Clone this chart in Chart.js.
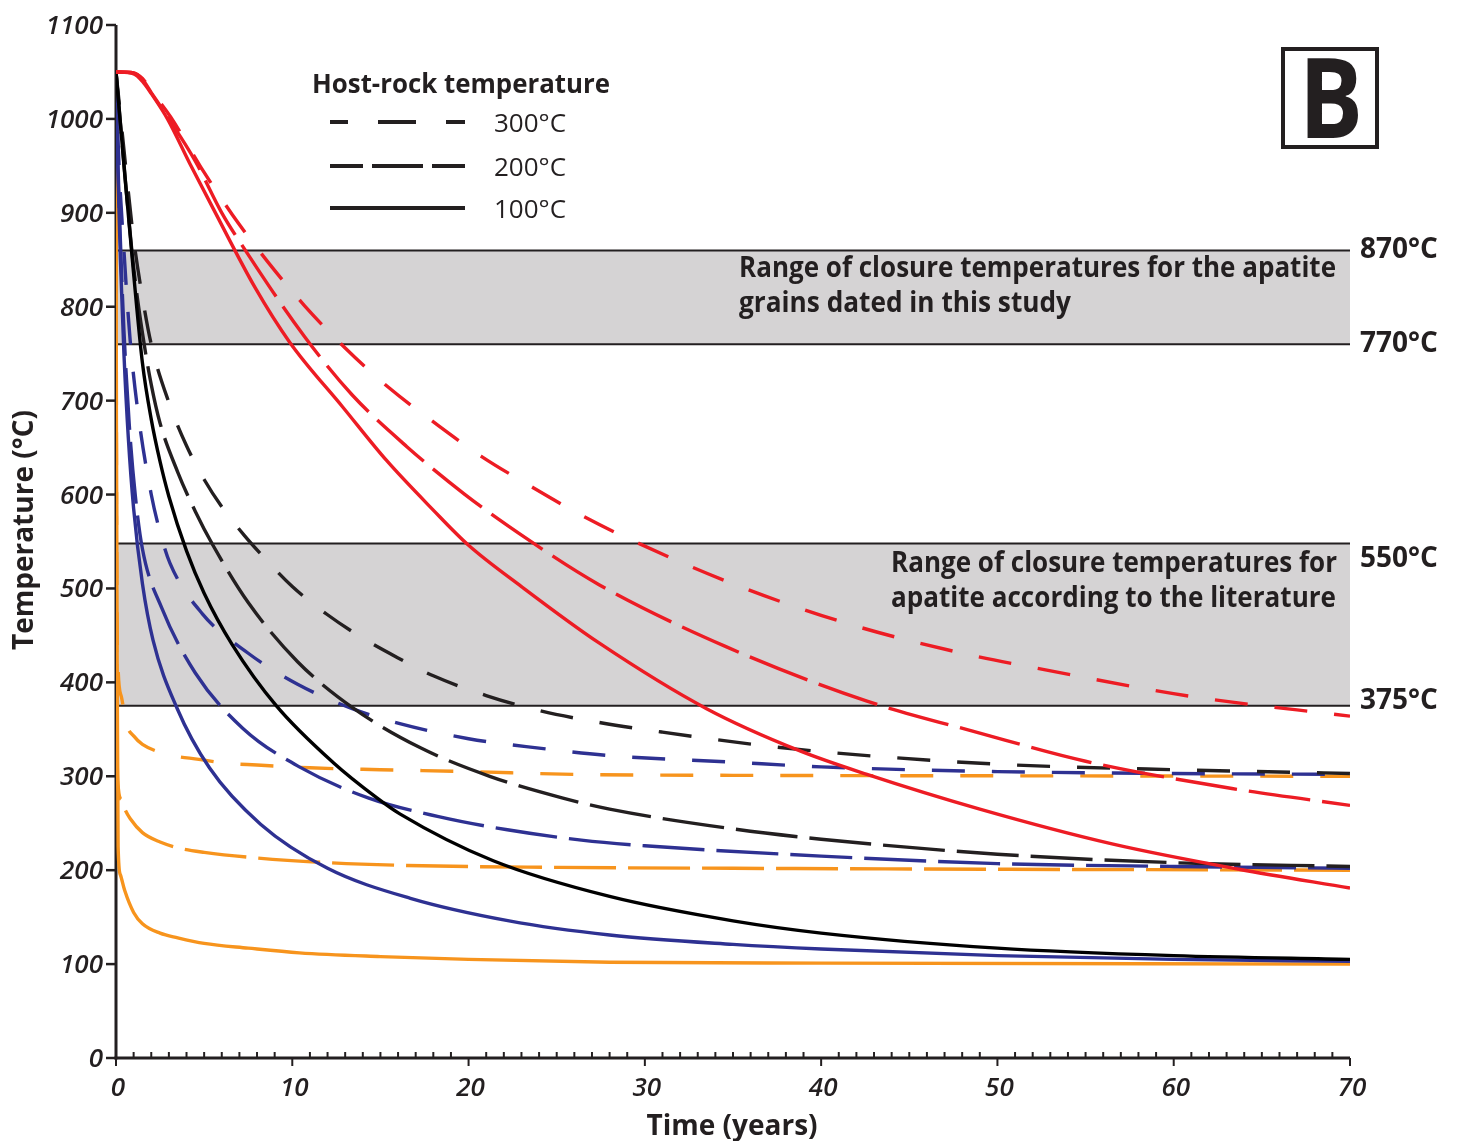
<!DOCTYPE html>
<html>
<head>
<meta charset="utf-8">
<title>Cooling curves - B</title>
<script src="https://cdn.jsdelivr.net/npm/chart.js@4.4.0/dist/chart.umd.min.js"></script>
<style>
  html, body { margin: 0; padding: 0; background: #fff; }
  #chart { display: block; }
</style>
</head>
<body>
<canvas id="chart" width="1460" height="1141"></canvas>
<script>
// Curves: time (years) and temperature (°C)
// red
const redTime300 = [0, 1, 1.5, 2, 3.1, 4.8, 6.6, 8.6, 10.7, 13, 15.4, 18.1, 20.7, 23.6, 26.4, 29.3, 35.4, 41.6, 48, 52.8, 61, 70];
const redTemp300 = [1050, 1049, 1043, 1030, 1002, 949, 898, 848, 801, 756, 715, 676, 641, 608, 578, 551, 502, 462, 431, 413, 385, 364];
const redTime200 = [0, 1, 1.5, 2, 3, 4.5, 6, 7.2, 10.7, 13.4, 16.5, 19.8, 23.3, 27.4, 34.6, 42.6, 49, 55, 63.3, 70];
const redTemp200 = [1050, 1049, 1042, 1028, 1000, 955, 900, 864, 768, 706, 651, 600, 553, 504, 438, 380, 346, 316, 287, 269];
const redTime100 = [0, 1, 1.5, 2, 2.95, 4.2, 5.5, 7.9, 9.86, 12.87, 15.36, 17.97, 20, 23, 27.4, 33.5, 38.8, 42.6, 49, 56.5, 63.7, 70];
const redTemp100 = [1050, 1048, 1040, 1027, 999, 952, 905, 820, 762, 693, 636, 584, 546, 502, 442, 372, 327, 302, 265, 228, 201, 181];
// black
const blackTime300 = [0, 0.3, 0.6, 1, 1.5, 2, 3, 4, 5, 6, 7.3, 8.2, 10, 12, 14, 16, 18, 21, 24, 27.5, 31, 37.5, 44, 51, 60, 70];
const blackTemp300 = [1050, 995, 940, 872, 810, 760, 698, 652, 616, 587, 556, 537, 502, 472, 447, 426, 407, 386, 370, 357, 347, 331, 320, 312, 307, 303];
const blackTime200 = [0, 0.3, 0.6, 1, 1.5, 2, 2.5, 3.5, 4.5, 5.5, 7.5, 10.3, 13.5, 17.3, 21.2, 25.3, 28, 35, 40, 50, 60, 70];
const blackTemp200 = [1050, 985, 920, 842, 772, 717, 676, 624, 582, 546, 485, 422, 372, 330, 300, 277, 265, 244, 233, 217, 208, 204];
const blackTime100 = [0, 0.5, 1, 1.5, 2, 2.5, 3, 4, 5, 6.6, 9.1, 12.3, 14.8, 16.1, 21.4, 28, 35, 40, 50, 60, 70];
const blackTemp100 = [1050, 940, 835, 740, 680, 635, 598, 540, 495, 440, 375, 315, 277, 260, 210, 172, 146, 133, 117, 109, 105];
// blue
const blueTime300 = [0, 0.15, 0.45, 0.8, 1.3, 2, 2.5, 3.06, 4.9, 7.5, 10.3, 13.4, 16.1, 20, 24, 28, 35, 40, 50, 60, 70];
const blueTemp300 = [1050, 960, 860, 765, 680, 600, 560, 527, 473, 431, 398, 372, 356, 340, 330, 322, 315, 310, 305, 303, 302];
const blueTime200 = [0, 0.1, 0.25, 0.45, 0.75, 1.1, 1.5, 2.6, 4.5, 7.2, 10.4, 14.3, 18.3, 22.2, 26.4, 30, 40, 50, 60, 70];
const blueTemp200 = [1050, 960, 870, 775, 675, 598, 542, 479, 410, 351, 310, 277, 257, 243, 232, 226, 215, 207, 204, 202];
const blueTime100 = [0, 0.1, 0.25, 0.45, 0.7, 1, 1.5, 2.1, 3.45, 5.3, 8.2, 12, 16.7, 22.3, 28, 35, 40, 50, 60, 70];
const blueTemp100 = [1050, 950, 850, 750, 660, 585, 505, 445, 373, 309, 249, 202, 170, 146, 131, 121, 116, 109, 105, 103];
// orange
const orangeTime300 = [0, 0.03, 0.1, 0.3, 0.6, 1, 1.5, 3, 4.7, 6.2, 8, 11, 15, 20, 26, 35, 50, 70];
const orangeTemp300 = [1050, 600, 425, 385, 355, 343, 334, 323, 318, 314, 312, 309, 307, 305, 302, 301, 300.5, 300];
const orangeTime200 = [0, 0.03, 0.1, 0.3, 0.5, 0.8, 1.5, 2.5, 3.7, 5, 8, 12, 16.5, 25, 35, 50, 70];
const orangeTemp200 = [1050, 500, 295, 275, 265, 255, 240, 230, 223, 219, 213, 208, 205, 203, 202, 201, 200];
const orangeTime100 = [0, 0.02, 0.06, 0.12, 0.25, 0.5, 1, 1.5, 2.5, 3.5, 5, 7.5, 10.4, 15, 20, 28, 40, 70];
const orangeTemp100 = [1050, 700, 440, 225, 195, 178, 155, 143, 133, 128, 122, 117, 112, 108, 105, 102, 101, 100];

// Axes, bands and labels
const xTicks = [0, 10, 20, 30, 40, 50, 60, 70];
const yTicks = [0, 100, 200, 300, 400, 500, 600, 700, 800, 900, 1000, 1100];
const bandLimits = [860, 760, 548, 375];
const bandLabels = ['870°C', '770°C', '550°C', '375°C'];
const bandNotes = [
    ['Range of closure temperatures for the apatite', 'grains dated in this study'],
    ['Range of closure temperatures for', 'apatite according to the literature']
];
const legendTitle = 'Host-rock temperature';
const legendLabels = ['300°C', '200°C', '100°C'];

// Styles
const colors = { red: '#ed1c24', black: '#231f20', solidBlack: '#000000', blue: '#2e3192', orange: '#f7941d', ink: '#231f20', band: '#d5d3d4' };
const dash300 = [33, 27];
const dash200 = [62, 12];
const FONT = '"Open Sans", "Noto Sans", sans-serif';

function makeCurve(times, temps, color, dash) {
    return {
        data: times.map((t, i) => ({ x: t, y: temps[i] })),
        borderColor: color,
        borderDash: dash,
        borderWidth: 3.4,
        pointRadius: 0,
        fill: false,
        cubicInterpolationMode: 'monotone'
    };
}

// first dataset is drawn on top
const datasets = [
    makeCurve(redTime100, redTemp100, colors.red, []),
    makeCurve(redTime200, redTemp200, colors.red, dash200),
    makeCurve(redTime300, redTemp300, colors.red, dash300),
    makeCurve(blackTime100, blackTemp100, colors.solidBlack, []),
    makeCurve(blackTime200, blackTemp200, colors.black, dash200),
    makeCurve(blackTime300, blackTemp300, colors.black, dash300),
    makeCurve(blueTime100, blueTemp100, colors.blue, []),
    makeCurve(blueTime200, blueTemp200, colors.blue, dash200),
    makeCurve(blueTime300, blueTemp300, colors.blue, dash300),
    makeCurve(orangeTime100, orangeTemp100, colors.orange, []),
    makeCurve(orangeTime200, orangeTemp200, colors.orange, dash200),
    makeCurve(orangeTime300, orangeTemp300, colors.orange, dash300)
];

// Bands, axes and tick labels behind the curves
const backgroundPlugin = {
    id: 'background',
    beforeDatasetsDraw(chart) {
        const { ctx, chartArea, scales: { x, y } } = chart;
        ctx.save();

        // grey bands
        ctx.fillStyle = colors.band;
        for (let i = 0; i < bandLimits.length; i += 2) {
            const top = y.getPixelForValue(bandLimits[i]);
            const bottom = y.getPixelForValue(bandLimits[i + 1]);
            ctx.fillRect(chartArea.left, top, chartArea.right - chartArea.left, bottom - top);
        }

        // band boundary lines and their labels
        const labelShift = [8, 8, 24, 3];
        ctx.strokeStyle = colors.ink;
        ctx.lineWidth = 2;
        ctx.fillStyle = colors.ink;
        ctx.font = `700 28px ${FONT}`;
        ctx.textAlign = 'left';
        ctx.textBaseline = 'alphabetic';
        bandLimits.forEach((v, i) => {
            const py = y.getPixelForValue(v);
            ctx.beginPath();
            ctx.moveTo(chartArea.left, py);
            ctx.lineTo(chartArea.right, py);
            ctx.stroke();
            ctx.fillText(bandLabels[i], chartArea.right + 10, py + labelShift[i], 78);
        });

        // notes inside the bands
        ctx.textAlign = 'left';
        ctx.fillText(bandNotes[0][0], 739, 277, 597);
        ctx.fillText(bandNotes[0][1], 739, 312, 332);
        ctx.textAlign = 'right';
        ctx.fillText(bandNotes[1][0], 1337, 572, 446);
        ctx.fillText(bandNotes[1][1], 1336, 607, 445);

        // y axis
        ctx.lineWidth = 3;
        ctx.beginPath();
        ctx.moveTo(chartArea.left, chartArea.top);
        ctx.lineTo(chartArea.left, chartArea.bottom + 1.5);
        ctx.stroke();
        ctx.lineWidth = 2.5;
        ctx.font = `italic 600 26px ${FONT}`;
        ctx.textAlign = 'right';
        yTicks.forEach(v => {
            const py = y.getPixelForValue(v);
            ctx.beginPath();
            ctx.moveTo(chartArea.left - 10, py);
            ctx.lineTo(chartArea.left, py);
            ctx.stroke();
            ctx.fillText(String(v), chartArea.left - 13, py + 9, 58);
        });

        // x axis with minor ticks every year
        ctx.lineWidth = 3;
        ctx.beginPath();
        ctx.moveTo(chartArea.left - 1.5, chartArea.bottom);
        ctx.lineTo(chartArea.right, chartArea.bottom);
        ctx.stroke();
        ctx.lineWidth = 2;
        for (let t = 1; t < 70; t++) {
            if (t % 10 === 0) continue;
            const px = x.getPixelForValue(t);
            ctx.beginPath();
            ctx.moveTo(px, chartArea.bottom);
            ctx.lineTo(px, chartArea.bottom - 6);
            ctx.stroke();
        }
        ctx.font = `italic 600 26px ${FONT}`;
        ctx.textAlign = 'center';
        xTicks.forEach(v => {
            const px = x.getPixelForValue(v);
            ctx.beginPath();
            ctx.moveTo(px, chartArea.bottom);
            ctx.lineTo(px, chartArea.bottom + 8);
            ctx.stroke();
            ctx.fillText(String(v), px + 2, chartArea.bottom + 38);
        });

        // axis titles
        ctx.font = `700 28px ${FONT}`;
        ctx.fillText('Time (years)', (chartArea.left + chartArea.right) / 2 - 1, 1135, 172);
        ctx.save();
        ctx.translate(33, 530);
        ctx.rotate(-Math.PI / 2);
        ctx.fillText('Temperature (°C)', 0, 0, 240);
        ctx.restore();

        ctx.restore();
    },

    // legend and panel letter on top
    afterDraw(chart) {
        const { ctx } = chart;
        ctx.save();
        ctx.fillStyle = colors.ink;
        ctx.textBaseline = 'alphabetic';
        ctx.textAlign = 'left';
        ctx.font = `700 26px ${FONT}`;
        ctx.fillText(legendTitle, 312, 93, 298);

        const legendDash = [[38, 30], [51, 9], []];
        const legendOffset = [20, 18, 0];
        const rowY = [122, 166, 208];
        ctx.font = `400 26px ${FONT}`;
        legendLabels.forEach((label, i) => {
            ctx.strokeStyle = colors.ink;
            ctx.lineWidth = 4;
            ctx.setLineDash(legendDash[i]);
            ctx.lineDashOffset = legendOffset[i];
            ctx.beginPath();
            ctx.moveTo(330, rowY[i]);
            ctx.lineTo(465, rowY[i]);
            ctx.stroke();
            ctx.setLineDash([]);
            ctx.fillText(label, 494, rowY[i] + 10, 73);
        });

        // boxed "B"
        ctx.strokeStyle = colors.ink;
        ctx.lineWidth = 4;
        ctx.strokeRect(1283, 49, 94, 98);
        ctx.font = `700 112px ${FONT}`;
        ctx.textAlign = 'center';
        ctx.fillText('B', 1331, 138, 64);
        ctx.restore();
    }
};

// Build the chart
const ctx = document.getElementById('chart').getContext('2d');
const chart = new Chart(ctx, {
    type: 'line',
    data: { datasets: datasets },
    options: {
        responsive: false,
        animation: false,
        devicePixelRatio: 1,
        layout: {
            padding: { left: 116, right: 110, top: 25, bottom: 83 }
        },
        scales: {
            x: { type: 'linear', min: 0, max: 70, display: false },
            y: { type: 'linear', min: 0, max: 1100, display: false }
        },
        plugins: {
            legend: { display: false },
            tooltip: { enabled: false }
        }
    },
    plugins: [backgroundPlugin]
});
</script>
</body>
</html>
